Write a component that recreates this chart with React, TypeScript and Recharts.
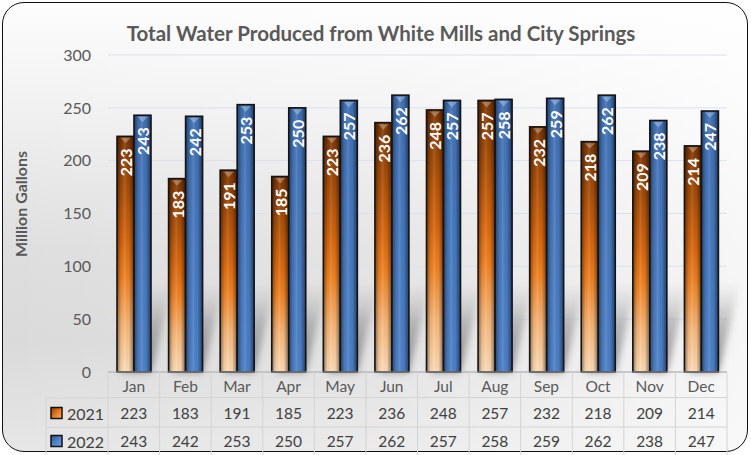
import React from "react";
import { BarChart, Bar, XAxis, YAxis, CartesianGrid, LabelList } from "recharts";

const months = ["Jan", "Feb", "Mar", "Apr", "May", "Jun", "Jul", "Aug", "Sep", "Oct", "Nov", "Dec"];
const produced2021 = [223, 183, 191, 185, 223, 236, 248, 257, 232, 218, 209, 214];
const produced2022 = [243, 242, 253, 250, 257, 262, 257, 258, 259, 262, 238, 247];
const yTicks = [0, 50, 100, 150, 200, 250, 300];
const seriesNames = ["2021", "2022"];

const data = months.map((month, i) => ({
  month,
  y2021: produced2021[i],
  y2022: produced2022[i],
}));

const W = 751;
const H = 455;
const FONT = "Lato, 'Open Sans', sans-serif";
const PLOT_LEFT = 108;
const PLOT_RIGHT = 727;
const BAND = (PLOT_RIGHT - PLOT_LEFT) / months.length;
const TABLE_LINE = "#d4d4d4";
const TEXT_DARK = "#404040";
const TEXT_GRAY = "#595959";

function CylinderBar(props: any) {
  const { x, y, width, height, fillId, withShadow } = props;
  if (!height || height <= 0) return null;
  const cx = x + width / 2;
  const base = y + height;
  // soft floor reflection behind the pair of bars, drawn before the first bar
  const shadow = withShadow ? (
    <polygon
      points={`${x + 4},${base} ${x + width * 2},${base} ${x + width * 2 + 22},${base - 90} ${x + 26},${base - 90}`}
      fill="url(#shadowFade)"
      filter="url(#softBlur)"
    />
  ) : null;
  return (
    <g>
      {shadow}
      <rect x={x} y={y} width={width} height={height} fill={`url(#${fillId})`} />
      <rect x={x} y={y} width={width} height={height} fill="url(#barEdges)" />
      <polygon
        points={`${cx - 5},${y + 1.5} ${cx + 5},${y + 1.5} ${cx},${y + 7}`}
        fill="#ffffff"
        opacity={0.3}
      />
      <rect x={x} y={y} width={width} height={height} fill="none" stroke="#141414" strokeWidth={1.6} />
    </g>
  );
}

function ValueLabel(props: any) {
  const { x, y, width, value } = props;
  const cx = x + width / 2;
  const ty = y + 12;
  return (
    <text
      x={cx}
      y={ty}
      transform={`rotate(-90 ${cx} ${ty})`}
      textAnchor="end"
      dominantBaseline="central"
      fill="#ffffff"
      fontFamily={FONT}
      fontWeight={700}
      fontSize={16}
    >
      {value}
    </text>
  );
}

// one column of the data table under the plot: month, then both yearly values
function TableTick(props: any) {
  const { x, y, payload, index } = props;
  const left = x - BAND / 2;
  const right = x + BAND / 2;
  const rows = [produced2021[index], produced2022[index]];
  return (
    <g fontFamily={FONT} fontSize={15.5}>
      <line x1={right} y1={y} x2={right} y2={H} stroke={TABLE_LINE} />
      {index === 0 && <line x1={left} y1={y} x2={left} y2={H} stroke={TABLE_LINE} />}
      <line x1={left} y1={y + 25.5} x2={right} y2={y + 25.5} stroke={TABLE_LINE} />
      <line x1={left} y1={y + 55} x2={right} y2={y + 55} stroke={TABLE_LINE} />
      <text x={x} y={y + 14} textAnchor="middle" dominantBaseline="central" fill={TEXT_GRAY}>
        {payload.value}
      </text>
      {rows.map((v, r) => (
        <text
          key={r}
          x={x}
          y={y + 41 + r * 28}
          textAnchor="middle"
          dominantBaseline="central"
          fill={TEXT_DARK}
        >
          {v}
        </text>
      ))}
    </g>
  );
}

export default function App() {
  return (
    <div style={{ position: "fixed", left: 0, top: 0, width: W, height: H, overflow: "hidden", background: "#fff" }}>
      <div
        style={{
          position: "absolute",
          left: 2,
          top: 2,
          width: 744,
          height: 448,
          border: "1.5px solid #111",
          borderRadius: 22,
          background:
            "linear-gradient(90deg, rgba(255,255,255,0) 0%, rgba(255,255,255,0.2) 50%, rgba(255,255,255,0.75) 100%), linear-gradient(180deg, #fdfdfd 0%, #f0f0f0 25%, #dedede 55%, #dadada 75%, #e6e6e6 100%)",
        }}
      />
      <div style={{ position: "absolute", left: 0, top: 0 }}>
        <BarChart
          width={W}
          height={H}
          data={data}
          margin={{ top: 55, right: W - PLOT_RIGHT, bottom: 0, left: PLOT_LEFT - 60 }}
          barGap={0}
          barCategoryGap="16%"
        >
          <defs>
            <linearGradient id="orangeFill" x1="0" y1="0" x2="0" y2="1">
              <stop offset="0%" stopColor="#7d3500" />
              <stop offset="20%" stopColor="#a44a04" />
              <stop offset="45%" stopColor="#d8660c" />
              <stop offset="60%" stopColor="#f0811f" />
              <stop offset="80%" stopColor="#f8b676" />
              <stop offset="100%" stopColor="#fddcb6" />
            </linearGradient>
            <linearGradient id="blueFill" x1="0" y1="0" x2="0" y2="1">
              <stop offset="0%" stopColor="#3f70b4" />
              <stop offset="100%" stopColor="#4b80c8" />
            </linearGradient>
            <linearGradient id="barEdges" x1="0" y1="0" x2="1" y2="0">
              <stop offset="0%" stopColor="#000" stopOpacity={0.45} />
              <stop offset="25%" stopColor="#000" stopOpacity={0.05} />
              <stop offset="45%" stopColor="#fff" stopOpacity={0.12} />
              <stop offset="70%" stopColor="#000" stopOpacity={0.02} />
              <stop offset="100%" stopColor="#000" stopOpacity={0.5} />
            </linearGradient>
            <linearGradient id="shadowFade" x1="0" y1="1" x2="0" y2="0">
              <stop offset="0%" stopColor="#5a5a5a" stopOpacity={0.7} />
              <stop offset="55%" stopColor="#7a7a7a" stopOpacity={0.45} />
              <stop offset="100%" stopColor="#a0a0a0" stopOpacity={0} />
            </linearGradient>
            <filter id="softBlur" x="-50%" y="-20%" width="200%" height="140%">
              <feGaussianBlur stdDeviation="3.5" />
            </filter>
          </defs>
          <CartesianGrid vertical={false} stroke="#dbe1ec" />
          <XAxis
            dataKey="month"
            height={H - 372}
            axisLine={{ stroke: "#a6a6a6" }}
            tickLine={false}
            tickSize={0}
            tickMargin={0}
            interval={0}
            tick={<TableTick />}
          />
          <YAxis
            width={60}
            domain={[0, 300]}
            ticks={yTicks}
            axisLine={false}
            tickLine={false}
            tickSize={8}
            tickMargin={9}
            tick={{ fill: TEXT_GRAY, fontSize: 16, fontFamily: FONT }}
          />
          <Bar
            dataKey="y2021"
            name={seriesNames[0]}
            barSize={17}
            isAnimationActive={false}
            shape={(p: any) => <CylinderBar {...p} fillId="orangeFill" withShadow />}
          >
            <LabelList dataKey="y2021" content={<ValueLabel />} />
          </Bar>
          <Bar
            dataKey="y2022"
            name={seriesNames[1]}
            barSize={17}
            isAnimationActive={false}
            shape={(p: any) => <CylinderBar {...p} fillId="blueFill" />}
          >
            <LabelList dataKey="y2022" content={<ValueLabel />} />
          </Bar>
        </BarChart>
      </div>
      <svg width={W} height={H} style={{ position: "absolute", left: 0, top: 0 }} fontFamily={FONT}>
        <defs>
          <linearGradient id="keyOrange" x1="0" y1="0" x2="1" y2="1">
            <stop offset="0%" stopColor="#8b3d02" />
            <stop offset="55%" stopColor="#ee7c1c" />
            <stop offset="100%" stopColor="#f8b676" />
          </linearGradient>
          <linearGradient id="keyBlue" x1="0" y1="0" x2="1" y2="1">
            <stop offset="0%" stopColor="#2d568f" />
            <stop offset="55%" stopColor="#4f86cf" />
            <stop offset="100%" stopColor="#6d9ee0" />
          </linearGradient>
        </defs>
        <text x={381} y={33} textAnchor="middle" dominantBaseline="central" fontWeight={700} fontSize={20.5} fill={TEXT_GRAY}>
          Total Water Produced from White Mills and City Springs
        </text>
        <text
          x={20}
          y={204}
          transform="rotate(-90 20 204)"
          textAnchor="middle"
          dominantBaseline="central"
          fontWeight={700}
          fontSize={16}
          fill={TEXT_GRAY}
        >
          Million Gallons
        </text>
        {/* series key column of the data table */}
        <line x1={46} y1={398} x2={PLOT_LEFT} y2={398} stroke={TABLE_LINE} />
        <line x1={46} y1={427.5} x2={PLOT_LEFT} y2={427.5} stroke={TABLE_LINE} />
        <line x1={46} y1={398} x2={46} y2={H} stroke={TABLE_LINE} />
        {seriesNames.map((name, r) => (
          <g key={name}>
            <rect
              x={51}
              y={407.5 + r * 28}
              width={11}
              height={11}
              fill={r === 0 ? "url(#keyOrange)" : "url(#keyBlue)"}
              stroke="#111"
              strokeWidth={1.5}
            />
            <text x={67} y={413.5 + r * 28} dominantBaseline="central" fontSize={16} fill={TEXT_DARK}>
              {name}
            </text>
          </g>
        ))}
      </svg>
    </div>
  );
}
